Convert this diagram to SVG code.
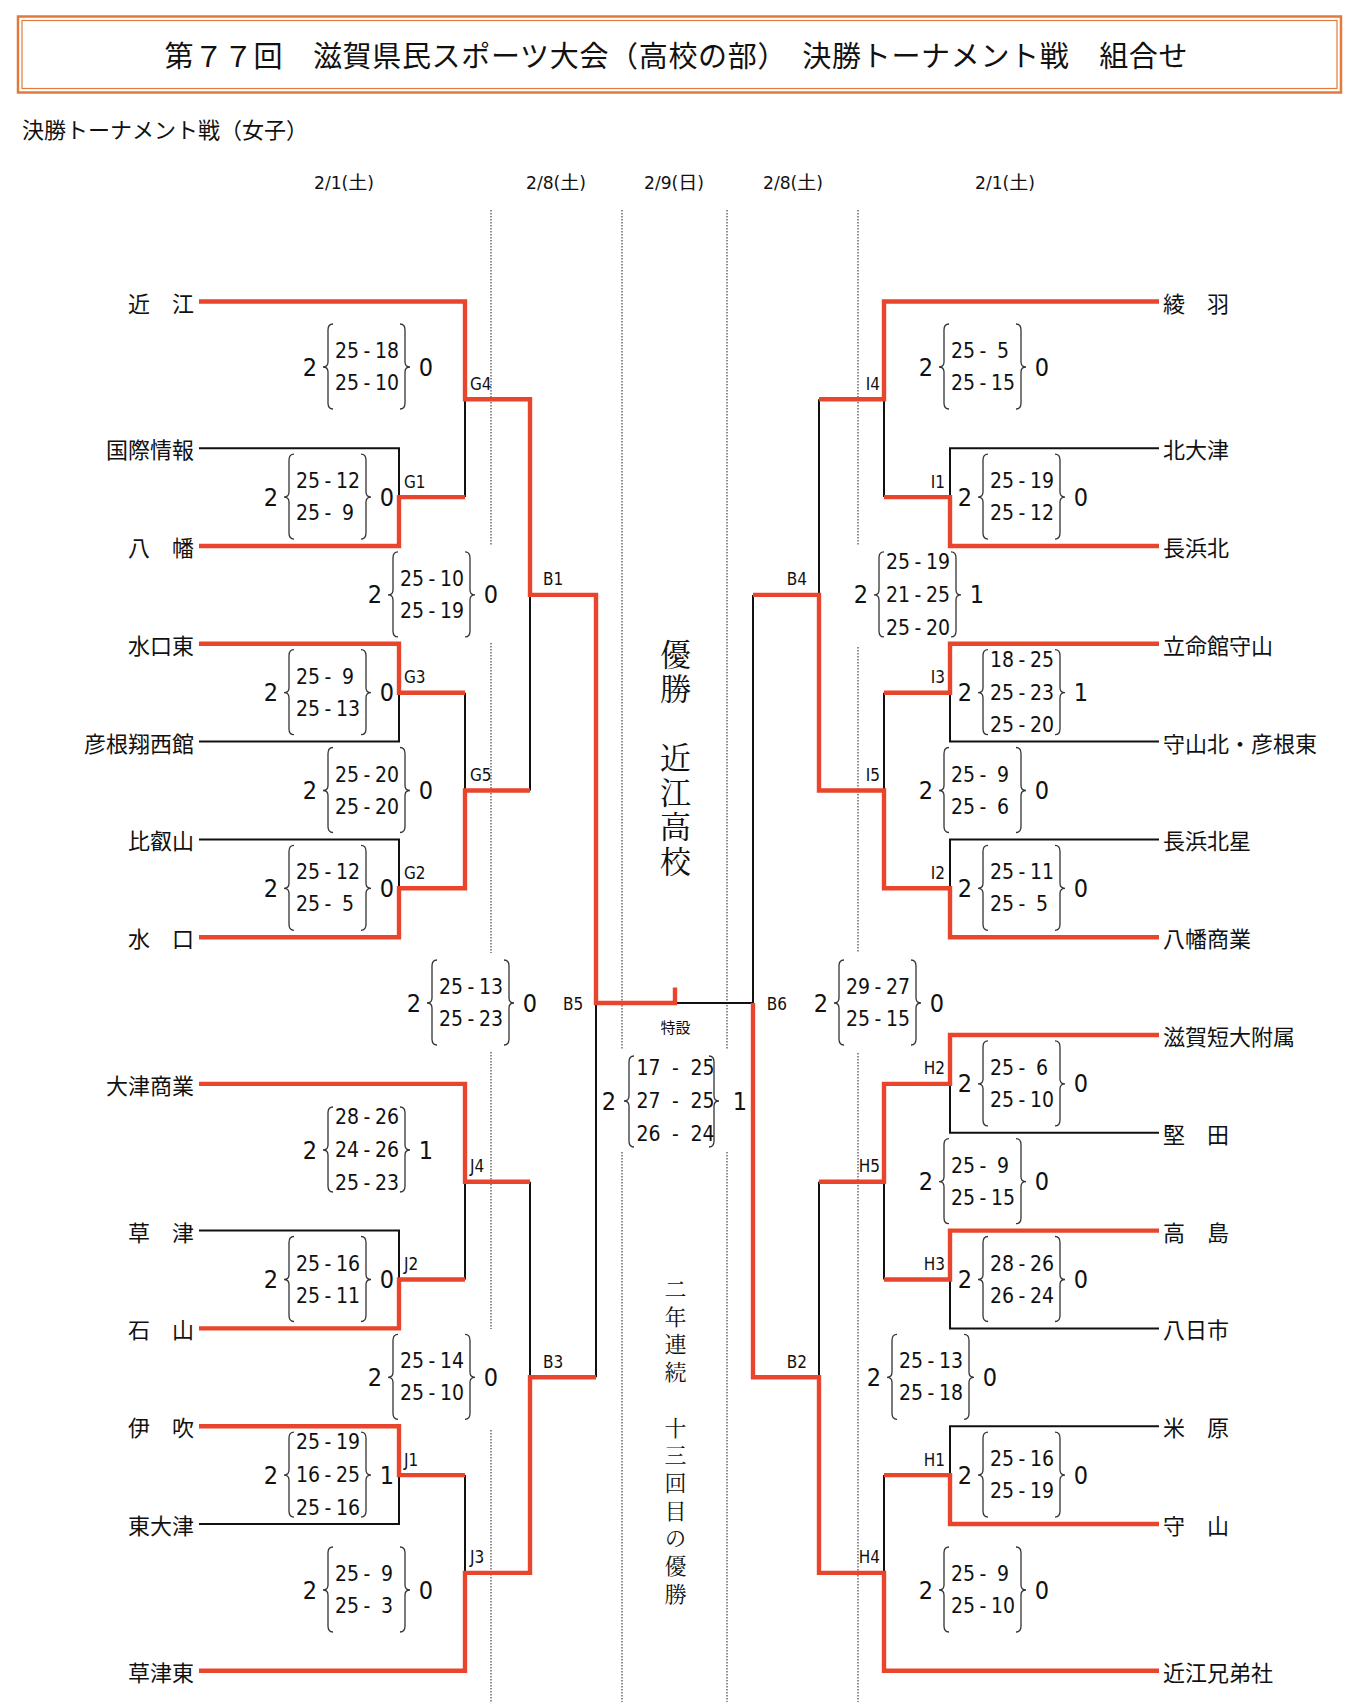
<svg xmlns="http://www.w3.org/2000/svg" width="1354" height="1707" viewBox="0 0 1354 1707">
<style>
.t{font-family:"Noto Sans CJK JP",sans-serif;font-size:22px;dominant-baseline:central;fill:#111}
.tl{text-anchor:end}
.n{font-family:"Liberation Sans Narrow","DejaVu Sans Condensed","Noto Sans CJK JP",sans-serif;fill:#111;dominant-baseline:central}
.s{font-size:21px;text-anchor:middle}
.w{font-size:25px;text-anchor:middle}
.lb{font-size:17px}
.lbr{font-size:17px;text-anchor:end}
.dt{font-size:18px;text-anchor:middle}
.br{fill:none;stroke:#333;stroke-width:1.3}
.blk{fill:none;stroke:#111;stroke-width:2}
.red{fill:none;stroke:#E8452C;stroke-width:4.4;stroke-linejoin:miter}
.dot{stroke:#444;stroke-width:1.2;stroke-dasharray:1.5 1.5}
.mc{font-family:"Noto Serif CJK JP","Noto Sans CJK JP",serif;fill:#111;writing-mode:vertical-rl}
.frame{fill:none;stroke:#E07B3C}
</style>
<rect width="1354" height="1707" fill="#fff"/>
<g id="title">
<rect class="frame" x="18" y="16.5" width="1323" height="76" stroke-width="2.5"/>
<rect class="frame" x="22" y="20.5" width="1315" height="68" stroke-width="1.2"/>
<text class="t" x="676" y="53.5" style="font-size:29px;text-anchor:middle" textLength="1023" lengthAdjust="spacing">第７７回　滋賀県民スポーツ大会（高校の部）　決勝トーナメント戦　組合せ</text>
</g>
<text id="subtitle" class="t" x="22" y="128">決勝トーナメント戦（女子）</text>
<g id="dates">
<text class="n dt" x="344" y="182" textLength="60" lengthAdjust="spacingAndGlyphs">2/1(土)</text>
<text class="n dt" x="556" y="182" textLength="60" lengthAdjust="spacingAndGlyphs">2/8(土)</text>
<text class="n dt" x="674" y="182" textLength="60" lengthAdjust="spacingAndGlyphs">2/9(日)</text>
<text class="n dt" x="793" y="182" textLength="60" lengthAdjust="spacingAndGlyphs">2/8(土)</text>
<text class="n dt" x="1005" y="182" textLength="60" lengthAdjust="spacingAndGlyphs">2/1(土)</text>
</g>
<g id="guides">
<path class="dot" d="M491,210V545M491,643V953M491,1052V1329M491,1430V1702"/>
<path class="dot" d="M858,210V545M858,647V952M858,1053V1702"/>
<path class="dot" d="M622,210V1050M622,1152V1702M727,210V1050M727,1152V1702"/>
</g>
<g id="connectors">
<path class="blk" d="M199,448.2H399V497.1M465,399.3V497.1M199,741.6H399V692.7M465,692.7V790.5M199,839.4H399V888.3M530,594.9V790.5M596,1003V1377.3M199,1230.6H399V1279.5M465,1181.7V1279.5M530,1181.7V1377.3M199,1524H399V1475.1M465,1475.1V1572.9"/>
<path class="blk" d="M1159,448.2H950V497.1M884,399.3V497.1M819,399.3V594.9M1159,741.6H950V692.7M884,692.7V790.5M1159,839.4H950V888.3M753,594.9V1003M675,1003H753M1159,1132.8H950V1083.9M884,1181.7V1279.5M1159,1328.4H950V1279.5M819,1181.7V1377.3M1159,1426.2H950V1475.1M884,1475.1V1572.9"/>
<path class="red" d="M199,301.5H465V399.3H530V594.9H596V1003H675V987.5"/>
<path class="red" d="M199,546H399V497.1H465"/>
<path class="red" d="M199,643.8H399V692.7H465"/>
<path class="red" d="M199,937.2H399V888.3H465V790.5H530"/>
<path class="red" d="M199,1083.9H465V1181.7H530"/>
<path class="red" d="M199,1328.4H399V1279.5H465"/>
<path class="red" d="M199,1426.2H399V1475.1H465"/>
<path class="red" d="M199,1670.7H465V1572.9H530V1377.3H596"/>
<path class="red" d="M1159,301.5H884V399.3H819"/>
<path class="red" d="M1159,546H950V497.1H884"/>
<path class="red" d="M1159,643.8H950V692.7H884"/>
<path class="red" d="M1159,937.2H950V888.3H884V790.5H819V594.9H753"/>
<path class="red" d="M1159,1035H950V1083.9H884V1181.7H819"/>
<path class="red" d="M1159,1230.6H950V1279.5H884"/>
<path class="red" d="M1159,1524H950V1475.1H884"/>
<path class="red" d="M1159,1670.7H884V1572.9H819V1377.3H753V1003"/>
</g>
<g id="teams-left">
<text id="t-oumi" class="t tl" x="194" y="301.5">近　江</text>
<text id="t-kokusai" class="t tl" x="194" y="448.2">国際情報</text>
<text id="t-hachiman" class="t tl" x="194" y="546">八　幡</text>
<text id="t-minakuchihigashi" class="t tl" x="194" y="643.8">水口東</text>
<text id="t-hikoneshoseikan" class="t tl" x="194" y="741.6">彦根翔西館</text>
<text id="t-hieizan" class="t tl" x="194" y="839.4">比叡山</text>
<text id="t-minakuchi" class="t tl" x="194" y="937.2">水　口</text>
<text id="t-otsushogyo" class="t tl" x="194" y="1083.9">大津商業</text>
<text id="t-kusatsu" class="t tl" x="194" y="1230.6">草　津</text>
<text id="t-ishiyama" class="t tl" x="194" y="1328.4">石　山</text>
<text id="t-ibuki" class="t tl" x="194" y="1426.2">伊　吹</text>
<text id="t-higashiotsu" class="t tl" x="194" y="1524">東大津</text>
<text id="t-kusatsuhigashi" class="t tl" x="194" y="1670.7">草津東</text>
</g>
<g id="teams-right">
<text id="t-ayaha" class="t" x="1163" y="301.5">綾　羽</text>
<text id="t-kitaotsu" class="t" x="1163" y="448.2">北大津</text>
<text id="t-nagahamakita" class="t" x="1163" y="546">長浜北</text>
<text id="t-ritsumeikan" class="t" x="1163" y="643.8">立命館守山</text>
<text id="t-moriyamakita" class="t" x="1163" y="741.6">守山北・彦根東</text>
<text id="t-nagahamahokusei" class="t" x="1163" y="839.4">長浜北星</text>
<text id="t-hachimanshogyo" class="t" x="1163" y="937.2">八幡商業</text>
<text id="t-shigatandai" class="t" x="1163" y="1035">滋賀短大附属</text>
<text id="t-katata" class="t" x="1163" y="1132.8">堅　田</text>
<text id="t-takashima" class="t" x="1163" y="1230.6">高　島</text>
<text id="t-yokaichi" class="t" x="1163" y="1328.4">八日市</text>
<text id="t-maibara" class="t" x="1163" y="1426.2">米　原</text>
<text id="t-moriyama" class="t" x="1163" y="1524">守　山</text>
<text id="t-oumikyodai" class="t" x="1163" y="1670.7">近江兄弟社</text>
</g>
<g id="m-G4"><text class="n lb" x="470" y="383.8">G4</text>
<path class="br" d="M333,324Q328,324 328,330V362Q328,367 323,367Q328,367 328,372V403Q328,409 333,409M400,324Q405,324 405,330V362Q405,367 410,367Q405,367 405,372V403Q405,409 400,409"/>
<text class="n w" x="310" y="367">2</text><text class="n w" x="426" y="367">0</text>
<text class="n s" y="351"><tspan x="347">25</tspan><tspan x="367">-</tspan><tspan x="387">18</tspan></text>
<text class="n s" y="383"><tspan x="347">25</tspan><tspan x="367">-</tspan><tspan x="387">10</tspan></text></g>
<g id="m-G1"><text class="n lb" x="404" y="481.6">G1</text>
<path class="br" d="M294,454.1Q289,454.1 289,460.1V492.1Q289,497.1 284,497.1Q289,497.1 289,502.1V533.1Q289,539.1 294,539.1M361,454.1Q366,454.1 366,460.1V492.1Q366,497.1 371,497.1Q366,497.1 366,502.1V533.1Q366,539.1 361,539.1"/>
<text class="n w" x="271" y="497.1">2</text><text class="n w" x="387" y="497.1">0</text>
<text class="n s" y="481.1"><tspan x="308">25</tspan><tspan x="328">-</tspan><tspan x="348">12</tspan></text>
<text class="n s" y="513.1"><tspan x="308">25</tspan><tspan x="328">-</tspan><tspan x="348">9</tspan></text></g>
<g id="m-B1"><text class="n lb" x="543" y="579.4">B1</text>
<path class="br" d="M398,551.9Q393,551.9 393,557.9V589.9Q393,594.9 388,594.9Q393,594.9 393,599.9V630.9Q393,636.9 398,636.9M465,551.9Q470,551.9 470,557.9V589.9Q470,594.9 475,594.9Q470,594.9 470,599.9V630.9Q470,636.9 465,636.9"/>
<text class="n w" x="375" y="594.9">2</text><text class="n w" x="491" y="594.9">0</text>
<text class="n s" y="578.9"><tspan x="412">25</tspan><tspan x="432">-</tspan><tspan x="452">10</tspan></text>
<text class="n s" y="610.9"><tspan x="412">25</tspan><tspan x="432">-</tspan><tspan x="452">19</tspan></text></g>
<g id="m-G3"><text class="n lb" x="404" y="677.2">G3</text>
<path class="br" d="M294,649.7Q289,649.7 289,655.7V687.7Q289,692.7 284,692.7Q289,692.7 289,697.7V728.7Q289,734.7 294,734.7M361,649.7Q366,649.7 366,655.7V687.7Q366,692.7 371,692.7Q366,692.7 366,697.7V728.7Q366,734.7 361,734.7"/>
<text class="n w" x="271" y="692.7">2</text><text class="n w" x="387" y="692.7">0</text>
<text class="n s" y="676.7"><tspan x="308">25</tspan><tspan x="328">-</tspan><tspan x="348">9</tspan></text>
<text class="n s" y="708.7"><tspan x="308">25</tspan><tspan x="328">-</tspan><tspan x="348">13</tspan></text></g>
<g id="m-G5"><text class="n lb" x="470" y="775">G5</text>
<path class="br" d="M333,747.5Q328,747.5 328,753.5V785.5Q328,790.5 323,790.5Q328,790.5 328,795.5V826.5Q328,832.5 333,832.5M400,747.5Q405,747.5 405,753.5V785.5Q405,790.5 410,790.5Q405,790.5 405,795.5V826.5Q405,832.5 400,832.5"/>
<text class="n w" x="310" y="790.5">2</text><text class="n w" x="426" y="790.5">0</text>
<text class="n s" y="774.5"><tspan x="347">25</tspan><tspan x="367">-</tspan><tspan x="387">20</tspan></text>
<text class="n s" y="806.5"><tspan x="347">25</tspan><tspan x="367">-</tspan><tspan x="387">20</tspan></text></g>
<g id="m-G2"><text class="n lb" x="404" y="872.8">G2</text>
<path class="br" d="M294,845.3Q289,845.3 289,851.3V883.3Q289,888.3 284,888.3Q289,888.3 289,893.3V924.3Q289,930.3 294,930.3M361,845.3Q366,845.3 366,851.3V883.3Q366,888.3 371,888.3Q366,888.3 366,893.3V924.3Q366,930.3 361,930.3"/>
<text class="n w" x="271" y="888.3">2</text><text class="n w" x="387" y="888.3">0</text>
<text class="n s" y="872.3"><tspan x="308">25</tspan><tspan x="328">-</tspan><tspan x="348">12</tspan></text>
<text class="n s" y="904.3"><tspan x="308">25</tspan><tspan x="328">-</tspan><tspan x="348">5</tspan></text></g>
<g id="m-B5"><text class="n lb" x="563" y="1004">B5</text>
<path class="br" d="M437,960Q432,960 432,966V998Q432,1003 427,1003Q432,1003 432,1008V1039Q432,1045 437,1045M504,960Q509,960 509,966V998Q509,1003 514,1003Q509,1003 509,1008V1039Q509,1045 504,1045"/>
<text class="n w" x="414" y="1003">2</text><text class="n w" x="530" y="1003">0</text>
<text class="n s" y="987"><tspan x="451">25</tspan><tspan x="471">-</tspan><tspan x="491">13</tspan></text>
<text class="n s" y="1019"><tspan x="451">25</tspan><tspan x="471">-</tspan><tspan x="491">23</tspan></text></g>
<g id="m-J4"><text class="n lb" x="470" y="1166.2">J4</text>
<path class="br" d="M333,1107Q328,1107 328,1113V1145Q328,1150 323,1150Q328,1150 328,1155V1186Q328,1192 333,1192M400,1107Q405,1107 405,1113V1145Q405,1150 410,1150Q405,1150 405,1155V1186Q405,1192 400,1192"/>
<text class="n w" x="310" y="1150">2</text><text class="n w" x="426" y="1150">1</text>
<text class="n s" y="1117.3"><tspan x="347">28</tspan><tspan x="367">-</tspan><tspan x="387">26</tspan></text>
<text class="n s" y="1150"><tspan x="347">24</tspan><tspan x="367">-</tspan><tspan x="387">26</tspan></text>
<text class="n s" y="1182.7"><tspan x="347">25</tspan><tspan x="367">-</tspan><tspan x="387">23</tspan></text></g>
<g id="m-J2"><text class="n lb" x="404" y="1264">J2</text>
<path class="br" d="M294,1236.5Q289,1236.5 289,1242.5V1274.5Q289,1279.5 284,1279.5Q289,1279.5 289,1284.5V1315.5Q289,1321.5 294,1321.5M361,1236.5Q366,1236.5 366,1242.5V1274.5Q366,1279.5 371,1279.5Q366,1279.5 366,1284.5V1315.5Q366,1321.5 361,1321.5"/>
<text class="n w" x="271" y="1279.5">2</text><text class="n w" x="387" y="1279.5">0</text>
<text class="n s" y="1263.5"><tspan x="308">25</tspan><tspan x="328">-</tspan><tspan x="348">16</tspan></text>
<text class="n s" y="1295.5"><tspan x="308">25</tspan><tspan x="328">-</tspan><tspan x="348">11</tspan></text></g>
<g id="m-B3"><text class="n lb" x="543" y="1361.8">B3</text>
<path class="br" d="M398,1334.3Q393,1334.3 393,1340.3V1372.3Q393,1377.3 388,1377.3Q393,1377.3 393,1382.3V1413.3Q393,1419.3 398,1419.3M465,1334.3Q470,1334.3 470,1340.3V1372.3Q470,1377.3 475,1377.3Q470,1377.3 470,1382.3V1413.3Q470,1419.3 465,1419.3"/>
<text class="n w" x="375" y="1377.3">2</text><text class="n w" x="491" y="1377.3">0</text>
<text class="n s" y="1361.3"><tspan x="412">25</tspan><tspan x="432">-</tspan><tspan x="452">14</tspan></text>
<text class="n s" y="1393.3"><tspan x="412">25</tspan><tspan x="432">-</tspan><tspan x="452">10</tspan></text></g>
<g id="m-J1"><text class="n lb" x="404" y="1459.6">J1</text>
<path class="br" d="M294,1432.1Q289,1432.1 289,1438.1V1470.1Q289,1475.1 284,1475.1Q289,1475.1 289,1480.1V1511.1Q289,1517.1 294,1517.1M361,1432.1Q366,1432.1 366,1438.1V1470.1Q366,1475.1 371,1475.1Q366,1475.1 366,1480.1V1511.1Q366,1517.1 361,1517.1"/>
<text class="n w" x="271" y="1475.1">2</text><text class="n w" x="387" y="1475.1">1</text>
<text class="n s" y="1442.4"><tspan x="308">25</tspan><tspan x="328">-</tspan><tspan x="348">19</tspan></text>
<text class="n s" y="1475.1"><tspan x="308">16</tspan><tspan x="328">-</tspan><tspan x="348">25</tspan></text>
<text class="n s" y="1507.8"><tspan x="308">25</tspan><tspan x="328">-</tspan><tspan x="348">16</tspan></text></g>
<g id="m-J3"><text class="n lb" x="470" y="1557.4">J3</text>
<path class="br" d="M333,1547Q328,1547 328,1553V1585Q328,1590 323,1590Q328,1590 328,1595V1626Q328,1632 333,1632M400,1547Q405,1547 405,1553V1585Q405,1590 410,1590Q405,1590 405,1595V1626Q405,1632 400,1632"/>
<text class="n w" x="310" y="1590">2</text><text class="n w" x="426" y="1590">0</text>
<text class="n s" y="1574"><tspan x="347">25</tspan><tspan x="367">-</tspan><tspan x="387">9</tspan></text>
<text class="n s" y="1606"><tspan x="347">25</tspan><tspan x="367">-</tspan><tspan x="387">3</tspan></text></g>
<g id="m-I4"><text class="n lbr" x="880" y="383.8">I4</text>
<path class="br" d="M949,324Q944,324 944,330V362Q944,367 939,367Q944,367 944,372V403Q944,409 949,409M1016,324Q1021,324 1021,330V362Q1021,367 1026,367Q1021,367 1021,372V403Q1021,409 1016,409"/>
<text class="n w" x="926" y="367">2</text><text class="n w" x="1042" y="367">0</text>
<text class="n s" y="351"><tspan x="963">25</tspan><tspan x="983">-</tspan><tspan x="1003">5</tspan></text>
<text class="n s" y="383"><tspan x="963">25</tspan><tspan x="983">-</tspan><tspan x="1003">15</tspan></text></g>
<g id="m-I1"><text class="n lbr" x="945" y="481.6">I1</text>
<path class="br" d="M988,454.1Q983,454.1 983,460.1V492.1Q983,497.1 978,497.1Q983,497.1 983,502.1V533.1Q983,539.1 988,539.1M1055,454.1Q1060,454.1 1060,460.1V492.1Q1060,497.1 1065,497.1Q1060,497.1 1060,502.1V533.1Q1060,539.1 1055,539.1"/>
<text class="n w" x="965" y="497.1">2</text><text class="n w" x="1081" y="497.1">0</text>
<text class="n s" y="481.1"><tspan x="1002">25</tspan><tspan x="1022">-</tspan><tspan x="1042">19</tspan></text>
<text class="n s" y="513.1"><tspan x="1002">25</tspan><tspan x="1022">-</tspan><tspan x="1042">12</tspan></text></g>
<g id="m-B4"><text class="n lbr" x="807" y="579.4">B4</text>
<path class="br" d="M884,551.9Q879,551.9 879,557.9V589.9Q879,594.9 874,594.9Q879,594.9 879,599.9V630.9Q879,636.9 884,636.9M951,551.9Q956,551.9 956,557.9V589.9Q956,594.9 961,594.9Q956,594.9 956,599.9V630.9Q956,636.9 951,636.9"/>
<text class="n w" x="861" y="594.9">2</text><text class="n w" x="977" y="594.9">1</text>
<text class="n s" y="562.2"><tspan x="898">25</tspan><tspan x="918">-</tspan><tspan x="938">19</tspan></text>
<text class="n s" y="594.9"><tspan x="898">21</tspan><tspan x="918">-</tspan><tspan x="938">25</tspan></text>
<text class="n s" y="627.6"><tspan x="898">25</tspan><tspan x="918">-</tspan><tspan x="938">20</tspan></text></g>
<g id="m-I3"><text class="n lbr" x="945" y="677.2">I3</text>
<path class="br" d="M988,649.7Q983,649.7 983,655.7V687.7Q983,692.7 978,692.7Q983,692.7 983,697.7V728.7Q983,734.7 988,734.7M1055,649.7Q1060,649.7 1060,655.7V687.7Q1060,692.7 1065,692.7Q1060,692.7 1060,697.7V728.7Q1060,734.7 1055,734.7"/>
<text class="n w" x="965" y="692.7">2</text><text class="n w" x="1081" y="692.7">1</text>
<text class="n s" y="660"><tspan x="1002">18</tspan><tspan x="1022">-</tspan><tspan x="1042">25</tspan></text>
<text class="n s" y="692.7"><tspan x="1002">25</tspan><tspan x="1022">-</tspan><tspan x="1042">23</tspan></text>
<text class="n s" y="725.4"><tspan x="1002">25</tspan><tspan x="1022">-</tspan><tspan x="1042">20</tspan></text></g>
<g id="m-I5"><text class="n lbr" x="880" y="775">I5</text>
<path class="br" d="M949,747.5Q944,747.5 944,753.5V785.5Q944,790.5 939,790.5Q944,790.5 944,795.5V826.5Q944,832.5 949,832.5M1016,747.5Q1021,747.5 1021,753.5V785.5Q1021,790.5 1026,790.5Q1021,790.5 1021,795.5V826.5Q1021,832.5 1016,832.5"/>
<text class="n w" x="926" y="790.5">2</text><text class="n w" x="1042" y="790.5">0</text>
<text class="n s" y="774.5"><tspan x="963">25</tspan><tspan x="983">-</tspan><tspan x="1003">9</tspan></text>
<text class="n s" y="806.5"><tspan x="963">25</tspan><tspan x="983">-</tspan><tspan x="1003">6</tspan></text></g>
<g id="m-I2"><text class="n lbr" x="945" y="872.8">I2</text>
<path class="br" d="M988,845.3Q983,845.3 983,851.3V883.3Q983,888.3 978,888.3Q983,888.3 983,893.3V924.3Q983,930.3 988,930.3M1055,845.3Q1060,845.3 1060,851.3V883.3Q1060,888.3 1065,888.3Q1060,888.3 1060,893.3V924.3Q1060,930.3 1055,930.3"/>
<text class="n w" x="965" y="888.3">2</text><text class="n w" x="1081" y="888.3">0</text>
<text class="n s" y="872.3"><tspan x="1002">25</tspan><tspan x="1022">-</tspan><tspan x="1042">11</tspan></text>
<text class="n s" y="904.3"><tspan x="1002">25</tspan><tspan x="1022">-</tspan><tspan x="1042">5</tspan></text></g>
<g id="m-B6"><text class="n lbr" x="787" y="1004">B6</text>
<path class="br" d="M844,960Q839,960 839,966V998Q839,1003 834,1003Q839,1003 839,1008V1039Q839,1045 844,1045M911,960Q916,960 916,966V998Q916,1003 921,1003Q916,1003 916,1008V1039Q916,1045 911,1045"/>
<text class="n w" x="821" y="1003">2</text><text class="n w" x="937" y="1003">0</text>
<text class="n s" y="987"><tspan x="858">29</tspan><tspan x="878">-</tspan><tspan x="898">27</tspan></text>
<text class="n s" y="1019"><tspan x="858">25</tspan><tspan x="878">-</tspan><tspan x="898">15</tspan></text></g>
<g id="m-H2"><text class="n lbr" x="945" y="1068.4">H2</text>
<path class="br" d="M988,1040.9Q983,1040.9 983,1046.9V1078.9Q983,1083.9 978,1083.9Q983,1083.9 983,1088.9V1119.9Q983,1125.9 988,1125.9M1055,1040.9Q1060,1040.9 1060,1046.9V1078.9Q1060,1083.9 1065,1083.9Q1060,1083.9 1060,1088.9V1119.9Q1060,1125.9 1055,1125.9"/>
<text class="n w" x="965" y="1083.9">2</text><text class="n w" x="1081" y="1083.9">0</text>
<text class="n s" y="1067.9"><tspan x="1002">25</tspan><tspan x="1022">-</tspan><tspan x="1042">6</tspan></text>
<text class="n s" y="1099.9"><tspan x="1002">25</tspan><tspan x="1022">-</tspan><tspan x="1042">10</tspan></text></g>
<g id="m-H5"><text class="n lbr" x="880" y="1166.2">H5</text>
<path class="br" d="M949,1138.7Q944,1138.7 944,1144.7V1176.7Q944,1181.7 939,1181.7Q944,1181.7 944,1186.7V1217.7Q944,1223.7 949,1223.7M1016,1138.7Q1021,1138.7 1021,1144.7V1176.7Q1021,1181.7 1026,1181.7Q1021,1181.7 1021,1186.7V1217.7Q1021,1223.7 1016,1223.7"/>
<text class="n w" x="926" y="1181.7">2</text><text class="n w" x="1042" y="1181.7">0</text>
<text class="n s" y="1165.7"><tspan x="963">25</tspan><tspan x="983">-</tspan><tspan x="1003">9</tspan></text>
<text class="n s" y="1197.7"><tspan x="963">25</tspan><tspan x="983">-</tspan><tspan x="1003">15</tspan></text></g>
<g id="m-H3"><text class="n lbr" x="945" y="1264">H3</text>
<path class="br" d="M988,1236.5Q983,1236.5 983,1242.5V1274.5Q983,1279.5 978,1279.5Q983,1279.5 983,1284.5V1315.5Q983,1321.5 988,1321.5M1055,1236.5Q1060,1236.5 1060,1242.5V1274.5Q1060,1279.5 1065,1279.5Q1060,1279.5 1060,1284.5V1315.5Q1060,1321.5 1055,1321.5"/>
<text class="n w" x="965" y="1279.5">2</text><text class="n w" x="1081" y="1279.5">0</text>
<text class="n s" y="1263.5"><tspan x="1002">28</tspan><tspan x="1022">-</tspan><tspan x="1042">26</tspan></text>
<text class="n s" y="1295.5"><tspan x="1002">26</tspan><tspan x="1022">-</tspan><tspan x="1042">24</tspan></text></g>
<g id="m-B2"><text class="n lbr" x="807" y="1361.8">B2</text>
<path class="br" d="M897,1334.3Q892,1334.3 892,1340.3V1372.3Q892,1377.3 887,1377.3Q892,1377.3 892,1382.3V1413.3Q892,1419.3 897,1419.3M964,1334.3Q969,1334.3 969,1340.3V1372.3Q969,1377.3 974,1377.3Q969,1377.3 969,1382.3V1413.3Q969,1419.3 964,1419.3"/>
<text class="n w" x="874" y="1377.3">2</text><text class="n w" x="990" y="1377.3">0</text>
<text class="n s" y="1361.3"><tspan x="911">25</tspan><tspan x="931">-</tspan><tspan x="951">13</tspan></text>
<text class="n s" y="1393.3"><tspan x="911">25</tspan><tspan x="931">-</tspan><tspan x="951">18</tspan></text></g>
<g id="m-H1"><text class="n lbr" x="945" y="1459.6">H1</text>
<path class="br" d="M988,1432.1Q983,1432.1 983,1438.1V1470.1Q983,1475.1 978,1475.1Q983,1475.1 983,1480.1V1511.1Q983,1517.1 988,1517.1M1055,1432.1Q1060,1432.1 1060,1438.1V1470.1Q1060,1475.1 1065,1475.1Q1060,1475.1 1060,1480.1V1511.1Q1060,1517.1 1055,1517.1"/>
<text class="n w" x="965" y="1475.1">2</text><text class="n w" x="1081" y="1475.1">0</text>
<text class="n s" y="1459.1"><tspan x="1002">25</tspan><tspan x="1022">-</tspan><tspan x="1042">16</tspan></text>
<text class="n s" y="1491.1"><tspan x="1002">25</tspan><tspan x="1022">-</tspan><tspan x="1042">19</tspan></text></g>
<g id="m-H4"><text class="n lbr" x="880" y="1557.4">H4</text>
<path class="br" d="M949,1547Q944,1547 944,1553V1585Q944,1590 939,1590Q944,1590 944,1595V1626Q944,1632 949,1632M1016,1547Q1021,1547 1021,1553V1585Q1021,1590 1026,1590Q1021,1590 1021,1595V1626Q1021,1632 1016,1632"/>
<text class="n w" x="926" y="1590">2</text><text class="n w" x="1042" y="1590">0</text>
<text class="n s" y="1574"><tspan x="963">25</tspan><tspan x="983">-</tspan><tspan x="1003">9</tspan></text>
<text class="n s" y="1606"><tspan x="963">25</tspan><tspan x="983">-</tspan><tspan x="1003">10</tspan></text></g>
<g id="m-final">
<text class="t" x="675.5" y="1026" style="font-size:15px;text-anchor:middle">特設</text>
<path class="br" d="M634,1056Q629,1056 629,1062V1096Q629,1101 624,1101Q629,1101 629,1106V1141Q629,1147 634,1147M709,1056Q714,1056 714,1062V1096Q714,1101 719,1101Q714,1101 714,1106V1141Q714,1147 709,1147"/>
<text class="n w" x="609" y="1101">2</text><text class="n w" x="740" y="1101">1</text>
<text class="n s" y="1068"><tspan x="648.5">17</tspan><tspan x="675.5">-</tspan><tspan x="702.5">25</tspan></text>
<text class="n s" y="1101"><tspan x="648.5">27</tspan><tspan x="675.5">-</tspan><tspan x="702.5">25</tspan></text>
<text class="n s" y="1134"><tspan x="648.5">26</tspan><tspan x="675.5">-</tspan><tspan x="702.5">24</tspan></text>
</g>
<g id="champion">
<text class="mc" x="675.5" y="638.5" style="font-size:31px;letter-spacing:3.5px">優勝　近江高校</text>
<text class="mc" x="675.5" y="1277.7" style="font-size:22px;letter-spacing:5.7px">二年連続　十三回目の優勝</text>
</g>
</svg>
